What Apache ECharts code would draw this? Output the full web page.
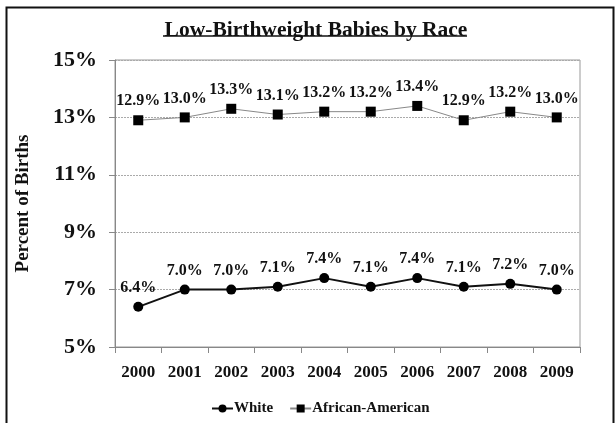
<!DOCTYPE html>
<html>
<head>
<meta charset="utf-8">
<script src="https://cdn.jsdelivr.net/npm/echarts@6/dist/echarts.min.js"></script>
<style>
  html, body { margin: 0; padding: 0; background: #fff; }
  #chart { width: 616px; height: 423px; }
</style>
</head>
<body>
<div id="chart"></div>
<script>
// data
var years = ["2000", "2001", "2002", "2003", "2004", "2005", "2006", "2007", "2008", "2009"];
var white = [6.4, 7.0, 7.0, 7.1, 7.4, 7.1, 7.4, 7.1, 7.2, 7.0];
var africanAmerican = [12.9, 13.0, 13.3, 13.1, 13.2, 13.2, 13.4, 12.9, 13.2, 13.0];
var yMin = 5, yMax = 15, yStep = 2;

var serif = "Liberation Serif, Times New Roman, serif";

var chart = echarts.init(document.getElementById("chart"));

function pctLabel(p) {
  return p.value.toFixed(1) + "%";
}

chart.setOption({
  animation: false,
  backgroundColor: "#fff",
  title: {
    text: "Low-Birthweight Babies by Race",
    left: 311,
    textAlign: "center",
    top: 14,
    textStyle: { fontFamily: serif, fontSize: 21.5, fontWeight: "bold", color: "#111" }
  },
  graphic: [
    // outer frame
    { type: "rect", left: 4, top: 5, shape: { width: 607, height: 430 }, style: { fill: null, stroke: "#111", lineWidth: 2 }, silent: true },
    // title underline
    { type: "line", shape: { x1: 163, y1: 36, x2: 467, y2: 36 }, style: { stroke: "#111", lineWidth: 1.5 }, silent: true }
  ],
  legend: {
    left: 206,
    top: 396,
    itemWidth: 21,
    itemHeight: 10,
    itemGap: 16,
    textStyle: { fontFamily: serif, fontSize: 15, fontWeight: "bold", color: "#111", padding: [0, 0, 0, -4] },
    data: ["White", "African-American"]
  },
  grid: {
    left: 115,
    right: 36,
    top: 60,
    bottom: 76,
    show: true,
    borderColor: "#999",
    borderWidth: 1
  },
  xAxis: {
    type: "category",
    data: years,
    axisLine: { lineStyle: { color: "#888" } },
    axisTick: { show: true, length: 6, lineStyle: { color: "#888" } },
    axisLabel: { margin: 17, fontFamily: serif, fontSize: 17, fontWeight: "bold", color: "#111" }
  },
  yAxis: {
    type: "value",
    min: yMin,
    max: yMax,
    interval: yStep,
    name: "Percent of Births",
    nameLocation: "middle",
    nameGap: 82,
    nameTextStyle: { fontFamily: serif, fontSize: 19, fontWeight: "bold", color: "#111" },
    axisLine: { show: true, lineStyle: { color: "#888" } },
    axisTick: { show: true, length: 6, lineStyle: { color: "#888" } },
    axisLabel: {
      margin: 18,
      formatter: "{value}%",
      fontFamily: serif, fontSize: 22, fontWeight: "bold", color: "#111"
    },
    splitLine: { show: true, lineStyle: { color: "#aaa", type: [2, 1], width: 1 } }
  },
  series: [
    {
      name: "White",
      type: "line",
      data: white,
      symbol: "circle",
      symbolSize: 10,
      itemStyle: { color: "#000" },
      lineStyle: { color: "#111", width: 2 },
      label: {
        show: true, position: "top", distance: 6, formatter: pctLabel,
        fontFamily: serif, fontSize: 16, fontWeight: "bold", color: "#111"
      }
    },
    {
      name: "African-American",
      type: "line",
      data: africanAmerican,
      symbol: "rect",
      symbolSize: 10,
      itemStyle: { color: "#000" },
      lineStyle: { color: "#888", width: 1 },
      label: {
        show: true, position: "top", distance: 6, formatter: pctLabel,
        fontFamily: serif, fontSize: 16, fontWeight: "bold", color: "#111"
      }
    }
  ]
});
</script>
</body>
</html>
